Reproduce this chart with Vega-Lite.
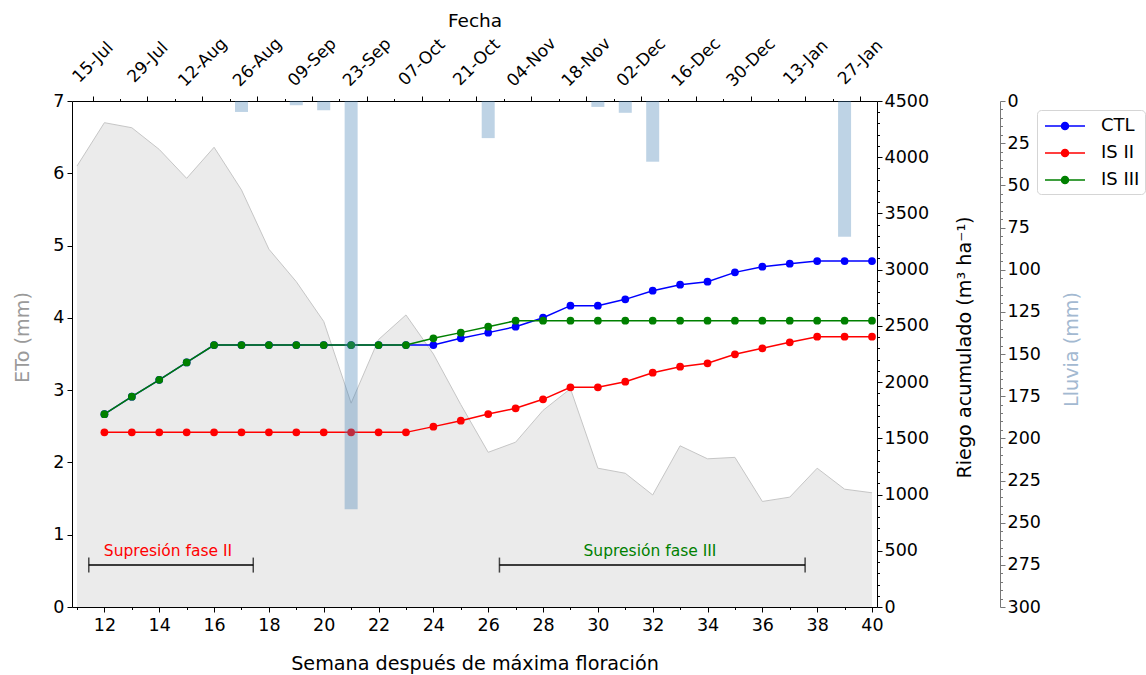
{
  "$schema": "https://vega.github.io/schema/vega-lite/v6.json",
  "width": 805,
  "height": 506,
  "autosize": {"type": "none"},
  "padding": {"left": 72, "top": 101, "right": 269, "bottom": 68},
  "background": "white",
  "config": {
    "font": "DejaVu Sans",
    "view": {"stroke": null},
    "axis": {
      "labelFont": "DejaVu Sans", "labelFontSize": 17.5, "labelColor": "black",
      "titleFont": "DejaVu Sans", "titleFontSize": 19.2, "titleFontWeight": "normal", "titleColor": "black",
      "domainColor": "black", "tickColor": "black", "domainWidth": 1, "tickWidth": 1,
      "grid": false, "labelOverlap": false, "labelFlush": false, "tickSize": 5, "zindex": 1
    },
    "legend": {"labelFont": "DejaVu Sans", "labelFontSize": 18, "labelColor": "black"}
  },
  "datasets": {
    "eto": [
      {"semana": 11, "eto": 6.1}, {"semana": 12, "eto": 6.7}, {"semana": 13, "eto": 6.63},
      {"semana": 14, "eto": 6.33}, {"semana": 15, "eto": 5.93}, {"semana": 16, "eto": 6.36},
      {"semana": 17, "eto": 5.77}, {"semana": 18, "eto": 4.95}, {"semana": 19, "eto": 4.5},
      {"semana": 20, "eto": 3.95}, {"semana": 21, "eto": 2.82}, {"semana": 22, "eto": 3.7},
      {"semana": 23, "eto": 4.04}, {"semana": 24, "eto": 3.5}, {"semana": 25, "eto": 2.8},
      {"semana": 26, "eto": 2.14}, {"semana": 27, "eto": 2.28}, {"semana": 28, "eto": 2.72},
      {"semana": 29, "eto": 3.02}, {"semana": 30, "eto": 1.92}, {"semana": 31, "eto": 1.85},
      {"semana": 32, "eto": 1.55}, {"semana": 33, "eto": 2.23}, {"semana": 34, "eto": 2.05},
      {"semana": 35, "eto": 2.07}, {"semana": 36, "eto": 1.46}, {"semana": 37, "eto": 1.52},
      {"semana": 38, "eto": 1.92}, {"semana": 39, "eto": 1.63}, {"semana": 40, "eto": 1.58}
    ],
    "fases": [
      {"fase": "Supresión fase II", "inicio": 11.43, "fin": 17.43, "centro": 14.32, "nivel": 0.58},
      {"fase": "Supresión fase III", "inicio": 26.41, "fin": 37.56, "centro": 31.9, "nivel": 0.58}
    ],
    "lluvia": [
      {"semana": 17, "lluvia": 6.5}, {"semana": 19, "lluvia": 2.5}, {"semana": 20, "lluvia": 5.5},
      {"semana": 21, "lluvia": 242}, {"semana": 26, "lluvia": 22}, {"semana": 30, "lluvia": 3.5},
      {"semana": 31, "lluvia": 7}, {"semana": 32, "lluvia": 36}, {"semana": 39, "lluvia": 80.5}
    ],
    "riego": [
      {"serie": "CTL", "semana": 12, "riego": 1715}, {"serie": "CTL", "semana": 13, "riego": 1870},
      {"serie": "CTL", "semana": 14, "riego": 2020}, {"serie": "CTL", "semana": 15, "riego": 2175},
      {"serie": "CTL", "semana": 16, "riego": 2330}, {"serie": "CTL", "semana": 17, "riego": 2330},
      {"serie": "CTL", "semana": 18, "riego": 2330}, {"serie": "CTL", "semana": 19, "riego": 2330},
      {"serie": "CTL", "semana": 20, "riego": 2330}, {"serie": "CTL", "semana": 21, "riego": 2330},
      {"serie": "CTL", "semana": 22, "riego": 2330}, {"serie": "CTL", "semana": 23, "riego": 2330},
      {"serie": "CTL", "semana": 24, "riego": 2330}, {"serie": "CTL", "semana": 25, "riego": 2390},
      {"serie": "CTL", "semana": 26, "riego": 2440}, {"serie": "CTL", "semana": 27, "riego": 2493},
      {"serie": "CTL", "semana": 28, "riego": 2573}, {"serie": "CTL", "semana": 29, "riego": 2680},
      {"serie": "CTL", "semana": 30, "riego": 2680}, {"serie": "CTL", "semana": 31, "riego": 2736},
      {"serie": "CTL", "semana": 32, "riego": 2813}, {"serie": "CTL", "semana": 33, "riego": 2866},
      {"serie": "CTL", "semana": 34, "riego": 2893}, {"serie": "CTL", "semana": 35, "riego": 2976},
      {"serie": "CTL", "semana": 36, "riego": 3026}, {"serie": "CTL", "semana": 37, "riego": 3053},
      {"serie": "CTL", "semana": 38, "riego": 3077}, {"serie": "CTL", "semana": 39, "riego": 3077},
      {"serie": "CTL", "semana": 40, "riego": 3077},
      {"serie": "IS II", "semana": 12, "riego": 1553}, {"serie": "IS II", "semana": 13, "riego": 1553},
      {"serie": "IS II", "semana": 14, "riego": 1553}, {"serie": "IS II", "semana": 15, "riego": 1553},
      {"serie": "IS II", "semana": 16, "riego": 1553}, {"serie": "IS II", "semana": 17, "riego": 1553},
      {"serie": "IS II", "semana": 18, "riego": 1553}, {"serie": "IS II", "semana": 19, "riego": 1553},
      {"serie": "IS II", "semana": 20, "riego": 1553}, {"serie": "IS II", "semana": 21, "riego": 1553},
      {"serie": "IS II", "semana": 22, "riego": 1553}, {"serie": "IS II", "semana": 23, "riego": 1553},
      {"serie": "IS II", "semana": 24, "riego": 1604}, {"serie": "IS II", "semana": 25, "riego": 1657},
      {"serie": "IS II", "semana": 26, "riego": 1716}, {"serie": "IS II", "semana": 27, "riego": 1767},
      {"serie": "IS II", "semana": 28, "riego": 1847}, {"serie": "IS II", "semana": 29, "riego": 1954},
      {"serie": "IS II", "semana": 30, "riego": 1954}, {"serie": "IS II", "semana": 31, "riego": 2004},
      {"serie": "IS II", "semana": 32, "riego": 2084}, {"serie": "IS II", "semana": 33, "riego": 2137},
      {"serie": "IS II", "semana": 34, "riego": 2167}, {"serie": "IS II", "semana": 35, "riego": 2247},
      {"serie": "IS II", "semana": 36, "riego": 2301}, {"serie": "IS II", "semana": 37, "riego": 2354},
      {"serie": "IS II", "semana": 38, "riego": 2404}, {"serie": "IS II", "semana": 39, "riego": 2404},
      {"serie": "IS II", "semana": 40, "riego": 2404},
      {"serie": "IS III", "semana": 12, "riego": 1715}, {"serie": "IS III", "semana": 13, "riego": 1870},
      {"serie": "IS III", "semana": 14, "riego": 2020}, {"serie": "IS III", "semana": 15, "riego": 2175},
      {"serie": "IS III", "semana": 16, "riego": 2330}, {"serie": "IS III", "semana": 17, "riego": 2330},
      {"serie": "IS III", "semana": 18, "riego": 2330}, {"serie": "IS III", "semana": 19, "riego": 2330},
      {"serie": "IS III", "semana": 20, "riego": 2330}, {"serie": "IS III", "semana": 21, "riego": 2330},
      {"serie": "IS III", "semana": 22, "riego": 2330}, {"serie": "IS III", "semana": 23, "riego": 2330},
      {"serie": "IS III", "semana": 24, "riego": 2390}, {"serie": "IS III", "semana": 25, "riego": 2440},
      {"serie": "IS III", "semana": 26, "riego": 2493}, {"serie": "IS III", "semana": 27, "riego": 2546},
      {"serie": "IS III", "semana": 28, "riego": 2546}, {"serie": "IS III", "semana": 29, "riego": 2546},
      {"serie": "IS III", "semana": 30, "riego": 2546}, {"serie": "IS III", "semana": 31, "riego": 2546},
      {"serie": "IS III", "semana": 32, "riego": 2546}, {"serie": "IS III", "semana": 33, "riego": 2546},
      {"serie": "IS III", "semana": 34, "riego": 2546}, {"serie": "IS III", "semana": 35, "riego": 2546},
      {"serie": "IS III", "semana": 36, "riego": 2546}, {"serie": "IS III", "semana": 37, "riego": 2546},
      {"serie": "IS III", "semana": 38, "riego": 2546}, {"serie": "IS III", "semana": 39, "riego": 2546},
      {"serie": "IS III", "semana": 40, "riego": 2546}
    ]
  },
  "layer": [
    {
      "layer": [
        {
          "data": {"name": "eto"},
          "mark": {"type": "area", "color": "#e3e3e3", "line": {"color": "#c6c6c6", "strokeWidth": 1}},
          "encoding": {
            "x": {
              "field": "semana", "type": "quantitative",
              "scale": {"domain": [11, 40], "nice": false, "zero": false},
              "axis": null
            },
            "y": {
              "field": "eto", "type": "quantitative",
              "scale": {"domain": [0, 7], "nice": false},
              "axis": {
                "orient": "left",
                "title": "ETo (mm)",
                "titleColor": "#9a9a9a",
                "titleY": 236,
                "values": [0,0.5,1,1.5,2,2.5,3,3.5,4,4.5,5,5.5,6,6.5,7],
                "labelExpr": "datum.value % 1 == 0 ? format(datum.value, 'd') : ''",
                "tickSize": {"condition": {"test": "datum.value % 1 != 0", "value": 2.5}, "value": 5},
                "labelPadding": 3,
                "titlePadding": 20
              }
            }
          }
        },
        {
          "data": {"name": "fases"},
          "mark": {"type": "rule", "color": "black", "strokeWidth": 1.5},
          "encoding": {
            "x": {"field": "inicio", "type": "quantitative", "axis": null},
            "x2": {"field": "fin"},
            "y": {"field": "nivel", "type": "quantitative"}
          }
        },
        {
          "data": {"name": "fases"},
          "transform": [{"fold": ["inicio", "fin"], "as": ["extremo", "pos"]}],
          "mark": {"type": "tick", "orient": "vertical", "color": "black", "size": 15, "thickness": 1.5},
          "encoding": {
            "x": {"field": "pos", "type": "quantitative", "axis": null},
            "y": {"field": "nivel", "type": "quantitative"}
          }
        },
        {
          "data": {"name": "fases"},
          "transform": [{"filter": "datum.fase == 'Supresión fase II'"}],
          "mark": {"type": "text", "color": "#ff0000", "fontSize": 15.5, "font": "DejaVu Sans", "dy": -14.5, "baseline": "middle"},
          "encoding": {
            "x": {"field": "centro", "type": "quantitative", "axis": null},
            "y": {"field": "nivel", "type": "quantitative"},
            "text": {"field": "fase"}
          }
        },
        {
          "data": {"name": "fases"},
          "transform": [{"filter": "datum.fase == 'Supresión fase III'"}],
          "mark": {"type": "text", "color": "#008000", "fontSize": 15.5, "font": "DejaVu Sans", "dy": -14.5, "baseline": "middle"},
          "encoding": {
            "x": {"field": "centro", "type": "quantitative", "axis": null},
            "y": {"field": "nivel", "type": "quantitative"},
            "text": {"field": "fase"}
          }
        }
      ]
    },
    {
      "data": {"name": "riego"},
      "encoding": {
        "x": {
          "field": "semana", "type": "quantitative",
          "axis": {
            "orient": "top",
            "title": "Fecha",
            "titleFontSize": 18.5,
            "values": [11.5714,12.5714,13.5714,14.5714,15.5714,16.5714,17.5714,18.5714,19.5714,20.5714,21.5714,22.5714,23.5714,24.5714,25.5714,26.5714,27.5714,28.5714,29.5714,30.5714,31.5714,32.5714,33.5714,34.5714,35.5714,36.5714,37.5714,38.5714,39.5714],
            "labelExpr": "(round(datum.value - 11.5714) % 2 == 0) ? ['15-Jul','29-Jul','12-Aug','26-Aug','09-Sep','23-Sep','07-Oct','21-Oct','04-Nov','18-Nov','02-Dec','16-Dec','30-Dec','13-Jan','27-Jan'][round(datum.value - 11.5714) / 2] : ''",
            "tickSize": {"condition": {"test": "round(datum.value - 11.5714) % 2 != 0", "value": 2.5}, "value": 5},
            "labelAngle": -45,
            "labelAlign": "center",
            "labelBaseline": "middle",
            "labelFontSize": 17,
            "labelPadding": 34,
            "titlePadding": 4
          }
        },
        "y": {
          "field": "riego", "type": "quantitative",
          "scale": {"domain": [0, 4500], "nice": false},
          "axis": {
            "orient": "right",
            "title": "Riego acumulado (m³ ha⁻¹)",
            "titleAngle": 270,
            "titleBaseline": "top",
            "titleY": 246,
            "values": [0,100,200,300,400,500,600,700,800,900,1000,1100,1200,1300,1400,1500,1600,1700,1800,1900,2000,2100,2200,2300,2400,2500,2600,2700,2800,2900,3000,3100,3200,3300,3400,3500,3600,3700,3800,3900,4000,4100,4200,4300,4400,4500],
            "labelExpr": "datum.value % 500 == 0 ? format(datum.value, 'd') : ''",
            "tickSize": {"condition": {"test": "datum.value % 500 != 0", "value": 2.5}, "value": 5},
            "labelPadding": 2,
            "titlePadding": 27
          }
        },
        "color": {
          "field": "serie", "type": "nominal",
          "scale": {"domain": ["CTL", "IS II", "IS III"], "range": ["#0000ff", "#ff0000", "#008000"]},
          "legend": {
            "title": null,
            "orient": "none",
            "legendX": 965,
            "legendY": 9,
            "symbolType": "M-0.8,0H3.2M0.85,0A0.35,0.35,0,1,1,1.55,0A0.35,0.35,0,1,1,0.85,0Z",
            "symbolSize": 400,
            "symbolStrokeWidth": 1.5,
            "rowPadding": 7,
            "labelOffset": 37,
            "padding": 5,
            "strokeColor": "#d5d5d5",
            "fillColor": "white",
            "cornerRadius": 4,
            "labelFontSize": 18,
            "encode": {"symbols": {"update": {"fill": {"scale": "color", "field": "value"}, "stroke": {"scale": "color", "field": "value"}, "fillOpacity": {"value": 1}, "opacity": {"value": 1}}}}
          }
        }
      },
      "layer": [
        {"mark": {"type": "line", "strokeWidth": 1.5}},
        {"mark": {"type": "point", "filled": true, "size": 60, "opacity": 1}}
      ]
    },
    {
      "data": {"name": "lluvia"},
      "mark": {"type": "bar", "color": "#4682b4", "opacity": 0.35, "size": 13},
      "encoding": {
        "x": {
          "field": "semana", "type": "quantitative",
          "axis": {
            "orient": "bottom",
            "title": "Semana después de máxima floración",
            "values": [11,12,13,14,15,16,17,18,19,20,21,22,23,24,25,26,27,28,29,30,31,32,33,34,35,36,37,38,39,40],
            "labelExpr": "datum.value % 2 == 0 ? format(datum.value, 'd') : ''",
            "tickSize": {"condition": {"test": "datum.value % 2 != 0", "value": 2.5}, "value": 5},
            "labelPadding": 4,
            "titlePadding": 21
          }
        },
        "y": {
          "field": "lluvia", "type": "quantitative",
          "scale": {"domain": [0, 300], "nice": false, "reverse": true},
          "axis": {
            "orient": "right",
            "offset": 123,
            "title": "Lluvia (mm)",
            "titleColor": "#a3b9d1",
            "titleAngle": 270,
            "titleBaseline": "top",
            "titleY": 248,
            "domainColor": "#777777",
            "tickColor": "#777777",
            "values": [0,5,10,15,20,25,30,35,40,45,50,55,60,65,70,75,80,85,90,95,100,105,110,115,120,125,130,135,140,145,150,155,160,165,170,175,180,185,190,195,200,205,210,215,220,225,230,235,240,245,250,255,260,265,270,275,280,285,290,295,300],
            "labelExpr": "datum.value % 25 == 0 ? format(datum.value, 'd') : ''",
            "tickSize": {"condition": {"test": "datum.value % 25 != 0", "value": 2.5}, "value": 5},
            "labelPadding": 2,
            "titlePadding": 22
          }
        }
      }
    }
  ],
  "resolve": {"scale": {"y": "independent"}, "axis": {"x": "independent"}}
}
